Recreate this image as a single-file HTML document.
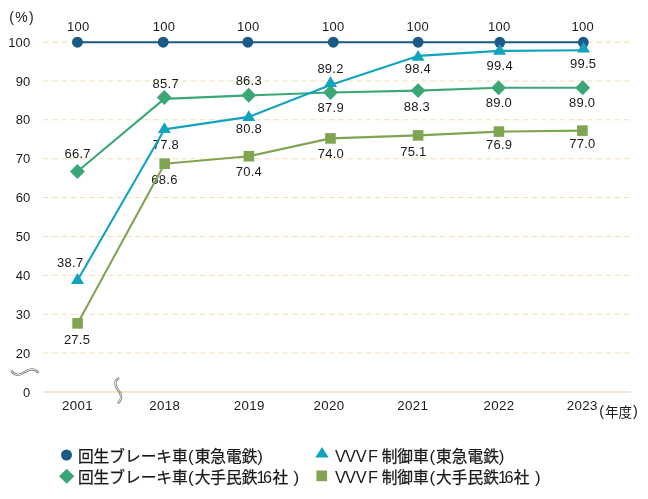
<!DOCTYPE html>
<html lang="ja">
<head>
<meta charset="utf-8">
<title>回生ブレーキ車・VVVF制御車の導入率</title>
<style>
html,body{margin:0;padding:0;background:#fff;}
body{width:648px;height:499px;overflow:hidden;position:relative;}
svg{position:absolute;left:0;top:0;display:block;}
svg text{font-family:"Liberation Sans","Noto Sans CJK JP",sans-serif;fill:#1a1a1a;}
.n{font-size:13px;letter-spacing:0.25px;}
.yr{font-size:13.3px;letter-spacing:0.35px;}
.lg{font-size:15.7px;stroke:#1a1a1a;stroke-width:0.25px;}
.la{font-size:16.4px;stroke:none;}
.dg{font-size:16.2px;stroke:none;}
.pr{font-size:17px;stroke:none;}
</style>
</head>
<body>
<svg width="648" height="499" viewBox="0 0 648 499">
<rect width="648" height="499" fill="#fff"/>

<g stroke="#f2dfb6" stroke-width="1.05" fill="none" stroke-dasharray="5.65 3.57">
<line x1="43" y1="42.10" x2="630" y2="42.10"/>
<line x1="43" y1="80.97" x2="630" y2="80.97"/>
<line x1="43" y1="119.84" x2="630" y2="119.84"/>
<line x1="43" y1="158.71" x2="630" y2="158.71"/>
<line x1="43" y1="197.58" x2="630" y2="197.58"/>
<line x1="43" y1="236.45" x2="630" y2="236.45"/>
<line x1="43" y1="275.32" x2="630" y2="275.32"/>
<line x1="43" y1="314.19" x2="630" y2="314.19"/>
<line x1="43" y1="353.06" x2="630" y2="353.06"/>
</g>
<g fill="none" stroke-linecap="butt">
<path d="M11.4,370.5 C13.6,375.4 19,376.2 24.5,372.2 C30,368.4 34.2,367.9 38.5,372.7" stroke="#707070" stroke-width="2.25"/>
<path d="M11.4,370.5 C13.6,375.4 19,376.2 24.5,372.2 C30,368.4 34.2,367.9 38.5,372.7" stroke="#fff" stroke-width="0.95"/>
<path d="M119.2,377.9 C113.6,380.6 114.6,386 119.5,392 C122,395.6 121.3,400 118,403.4" stroke="#707070" stroke-width="2.25"/>
<path d="M119.2,377.9 C113.6,380.6 114.6,386 119.5,392 C122,395.6 121.3,400 118,403.4" stroke="#fff" stroke-width="0.95"/>
</g>
<line x1="43" y1="391.93" x2="630.8" y2="391.93" stroke="#f3e8d5" stroke-width="2" style="mix-blend-mode:multiply"/>
<g class="n" text-anchor="end">
<text x="30.6" y="46.70">100</text>
<text x="30.6" y="85.57">90</text>
<text x="30.6" y="124.44">80</text>
<text x="30.6" y="163.31">70</text>
<text x="30.6" y="202.18">60</text>
<text x="30.6" y="241.05">50</text>
<text x="30.6" y="279.92">40</text>
<text x="30.6" y="318.79">30</text>
<text x="30.6" y="357.66">20</text>
<text x="30.6" y="396.53">0</text>
</g>
<text x="9.2" y="21.9" style="font-size:14px;letter-spacing:1.3px">(%)</text>
<g class="yr" text-anchor="middle">
<text x="77.55" y="410.3">2001</text>
<text x="164.75" y="410.3">2018</text>
<text x="249.15" y="410.3">2019</text>
<text x="329.05" y="410.3">2020</text>
<text x="412.85" y="410.3">2021</text>
<text x="499.05" y="410.3">2022</text>
<text x="582.35" y="410.3">2023</text>
</g>
<text style="font-size:13.5px"><tspan x="599.3" y="416.1" style="font-size:14.4px">(</tspan><tspan x="605.0" y="416.8">年度</tspan><tspan x="632.9" y="416.1" style="font-size:14.4px">)</tspan></text>
<g class="n" text-anchor="middle">
<text x="78.30" y="30.60">100</text>
<text x="163.95" y="30.50">100</text>
<text x="248.15" y="30.50">100</text>
<text x="333.20" y="30.50">100</text>
<text x="417.70" y="30.50">100</text>
<text x="499.15" y="30.50">100</text>
<text x="582.85" y="30.50">100</text>
<text x="70.25" y="267.20">38.7</text>
<text x="165.95" y="148.80">77.8</text>
<text x="248.95" y="133.20">80.8</text>
<text x="330.55" y="73.00">89.2</text>
<text x="417.85" y="73.20">98.4</text>
<text x="499.75" y="70.20">99.4</text>
<text x="583.10" y="68.20">99.5</text>
<text x="77.65" y="157.90">66.7</text>
<text x="165.75" y="87.70">85.7</text>
<text x="248.80" y="85.30">86.3</text>
<text x="330.75" y="112.20">87.9</text>
<text x="416.90" y="110.90">88.3</text>
<text x="498.95" y="107.00">89.0</text>
<text x="582.20" y="107.00">89.0</text>
<text x="77.05" y="343.80">27.5</text>
<text x="164.50" y="184.00">68.6</text>
<text x="248.90" y="176.20">70.4</text>
<text x="330.95" y="158.30">74.0</text>
<text x="413.45" y="155.90">75.1</text>
<text x="499.15" y="149.00">76.9</text>
<text x="582.45" y="148.00">77.0</text>
</g>
<polyline points="77.60,323.40 164.70,163.70 248.90,156.20 330.50,138.40 418.10,135.40 498.90,131.60 582.40,130.60" fill="none" stroke="#80a552" stroke-width="2.1" stroke-linejoin="round"/>
<rect x="72.30" y="318.10" width="10.6" height="10.6" fill="#80a552"/>
<rect x="159.40" y="158.40" width="10.6" height="10.6" fill="#80a552"/>
<rect x="243.60" y="150.90" width="10.6" height="10.6" fill="#80a552"/>
<rect x="325.20" y="133.10" width="10.6" height="10.6" fill="#80a552"/>
<rect x="412.80" y="130.10" width="10.6" height="10.6" fill="#80a552"/>
<rect x="493.60" y="126.30" width="10.6" height="10.6" fill="#80a552"/>
<rect x="577.10" y="125.30" width="10.6" height="10.6" fill="#80a552"/>
<polyline points="77.40,171.50 164.30,98.90 248.70,95.40 330.50,92.45 418.10,90.60 498.60,87.70 582.70,87.70" fill="none" stroke="#3ba776" stroke-width="2.1" stroke-linejoin="round"/>
<polygon points="77.40,164.05 84.85,171.50 77.40,178.95 69.95,171.50" fill="#3ba776"/>
<polygon points="164.30,90.05 171.75,97.50 164.30,104.95 156.85,97.50" fill="#3ba776"/>
<polygon points="248.70,87.85 256.15,95.30 248.70,102.75 241.25,95.30" fill="#3ba776"/>
<polygon points="330.50,85.00 337.95,92.45 330.50,99.90 323.05,92.45" fill="#3ba776"/>
<polygon points="418.10,83.15 425.55,90.60 418.10,98.05 410.65,90.60" fill="#3ba776"/>
<polygon points="498.60,80.25 506.05,87.70 498.60,95.15 491.15,87.70" fill="#3ba776"/>
<polygon points="582.70,80.25 590.15,87.70 582.70,95.15 575.25,87.70" fill="#3ba776"/>
<polyline points="77.45,42.20 163.20,42.20 247.80,42.20 333.30,42.20 418.10,42.20 499.80,42.30 583.30,42.30" fill="none" stroke="#1b5a86" stroke-width="2.1" stroke-linejoin="round"/>
<circle cx="77.45" cy="42.20" r="5.45" fill="#1b5a86"/>
<circle cx="163.20" cy="42.20" r="5.45" fill="#1b5a86"/>
<circle cx="247.80" cy="42.20" r="5.45" fill="#1b5a86"/>
<circle cx="333.30" cy="42.20" r="5.45" fill="#1b5a86"/>
<circle cx="418.10" cy="42.20" r="5.45" fill="#1b5a86"/>
<circle cx="499.80" cy="42.30" r="5.45" fill="#1b5a86"/>
<circle cx="583.30" cy="42.30" r="5.45" fill="#1b5a86"/>
<polyline points="77.50,280.30 164.40,129.40 248.80,116.90 330.50,84.90 418.10,55.90 499.60,50.90 583.50,50.30" fill="none" stroke="#12a3bf" stroke-width="2.1" stroke-linejoin="round"/>
<polygon points="77.50,273.05 84.00,283.90 71.00,283.90" fill="#12a3bf"/>
<polygon points="164.40,122.15 170.90,133.00 157.90,133.00" fill="#12a3bf"/>
<polygon points="248.80,110.15 255.30,121.00 242.30,121.00" fill="#12a3bf"/>
<polygon points="330.50,76.20 337.00,87.05 324.00,87.05" fill="#12a3bf"/>
<polygon points="418.10,49.95 424.60,60.80 411.60,60.80" fill="#12a3bf"/>
<polygon points="499.60,43.85 506.10,54.70 493.10,54.70" fill="#12a3bf"/>
<polygon points="583.50,41.75 590.00,52.60 577.00,52.60" fill="#12a3bf"/>
<circle cx="66.5" cy="455" r="5.5" fill="#1b5a86"/>
<polygon points="66.7,468.7 74.4,476.2 66.7,483.7 59,476.2" fill="#3ba776"/>
<polygon points="322,447 328.7,457.5 315.3,457.5" fill="#12a3bf"/>
<rect x="316.4" y="470.5" width="10.7" height="10.7" fill="#80a552"/>
<text class="lg"><tspan class="lg" x="77.90" y="462.10">回生ブレーキ車</tspan><tspan class="pr" x="188.00" y="461.50">(</tspan><tspan class="lg" x="194.70" y="462.10">東急電鉄</tspan><tspan class="pr" x="257.30" y="461.50">)</tspan></text>
<text class="lg"><tspan class="lg" x="77.90" y="483.40">回生ブレーキ車</tspan><tspan class="pr" x="188.00" y="482.80">(</tspan><tspan class="lg" x="194.70" y="483.40">大手民鉄</tspan><tspan class="dg" x="256.50 263.10" y="483.20">16</tspan><tspan class="lg" x="272.40" y="483.40">社</tspan><tspan class="pr" x="293.50" y="482.80">)</tspan></text>
<text class="lg"><tspan class="la" x="334.90 345.10 355.70 368.10" y="461.60">VVVF</tspan> <tspan class="lg" x="381.70" y="462.10">制御車</tspan><tspan class="pr" x="429.40" y="461.50">(</tspan><tspan class="lg" x="436.10" y="462.10">東急電鉄</tspan><tspan class="pr" x="498.70" y="461.50">)</tspan></text>
<text class="lg"><tspan class="la" x="334.90 345.10 355.70 368.10" y="482.90">VVVF</tspan> <tspan class="lg" x="381.70" y="483.40">制御車</tspan><tspan class="pr" x="429.40" y="482.80">(</tspan><tspan class="lg" x="436.10" y="483.40">大手民鉄</tspan><tspan class="dg" x="497.90 504.50" y="483.20">16</tspan><tspan class="lg" x="513.80" y="483.40">社</tspan><tspan class="pr" x="534.90" y="482.80">)</tspan></text>
</svg>
</body>
</html>
